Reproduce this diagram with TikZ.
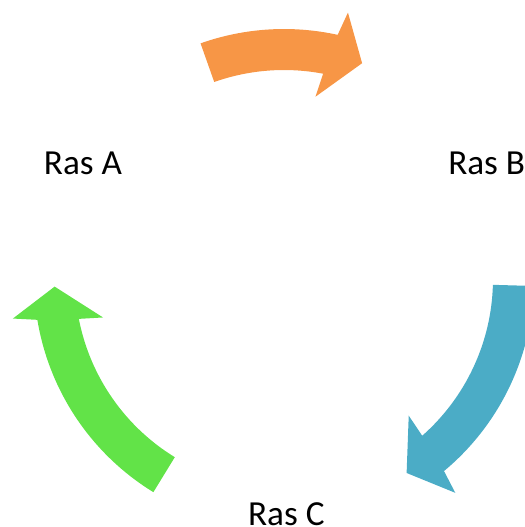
\documentclass[tikz,border=0pt]{standalone}
\usepackage{fontspec}
\setmainfont{Carlito}
\usepackage{xcolor}
\definecolor{rasorange}{HTML}{F79646}
\definecolor{rasblue}{HTML}{4BACC6}
\definecolor{rasgreen}{HTML}{62E348}
\tikzstyle{rastext} = [anchor=base, inner sep=0pt, font=\fontsize{17.6}{20}\selectfont]

\begin{document}
\begin{tikzpicture}[x=0.5pt, y=0.5pt]

\useasboundingbox (-284,-248) rectangle (241,279);

\node[rastext] (rasA) at (-201,104.7) {Ras A};
\node[rastext] (rasB) at (202.7,104.7) {Ras B};
\node[rastext] (rasC) at (2.3,-246) {Ras C};

% curved block arrows on one circle, clockwise
\foreach \col/\from/\to in {rasorange/109.5/70.1, rasblue/-1.6/-57.7, rasgreen/-121.5/-178.1}
  \fill[\col] (\from:209) arc[start angle=\from, end angle=\to+9.1, radius=209]
    -- (\to+10.1:185) -- (\to:229.5) -- (\to+6.4:274) -- (\to+7.5:250)
    arc[start angle=\to+7.5, end angle=\from, radius=250] -- cycle;

\end{tikzpicture}
\end{document}
